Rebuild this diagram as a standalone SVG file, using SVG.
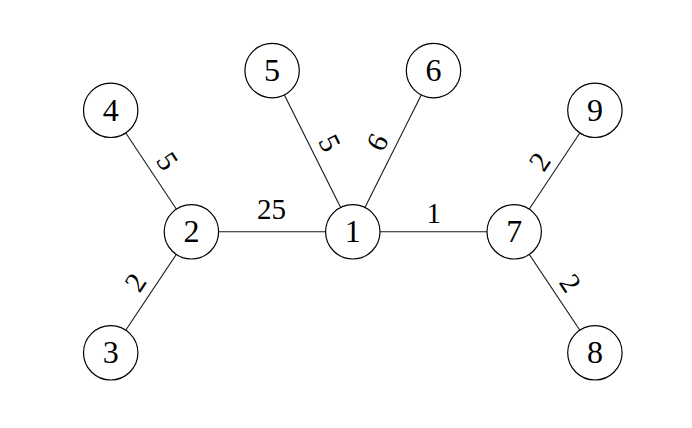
<svg xmlns="http://www.w3.org/2000/svg" width="692" height="428" viewBox="0 0 692 428">
<style>
.edge{stroke:#1a1a1a;stroke-width:1.1;fill:none}
.node circle{fill:#fff;stroke:#000;stroke-width:1.2}
.node text{font-family:"Liberation Serif","DejaVu Serif",serif;font-size:32px;text-anchor:middle;fill:#000}
.lbl{font-family:"Liberation Serif","DejaVu Serif",serif;font-size:29px;text-anchor:middle;fill:#000}
</style>
<rect width="692" height="428" fill="#fff"/>
<g id="connectors">
<line class="edge" x1="191.4" y1="231.8" x2="352.8" y2="231.8"/>
<line class="edge" x1="352.8" y1="231.8" x2="514.2" y2="231.8"/>
<line class="edge" x1="110.7" y1="110.3" x2="191.4" y2="231.8"/>
<line class="edge" x1="191.4" y1="231.8" x2="110.7" y2="352.8"/>
<line class="edge" x1="272.1" y1="70.6" x2="352.8" y2="231.8"/>
<line class="edge" x1="433.5" y1="70.6" x2="352.8" y2="231.8"/>
<line class="edge" x1="594.9" y1="110.3" x2="514.2" y2="231.8"/>
<line class="edge" x1="514.2" y1="231.8" x2="594.9" y2="352.8"/>
<text class="lbl" x="271.5" y="219">25</text>
<text class="lbl" x="433.7" y="223.3">1</text>
<text class="lbl" transform="translate(167.2,161.2) rotate(56.4)" y="9.6">5</text>
<text class="lbl" transform="translate(135.5,282.5) rotate(-56.4)" y="9.6">2</text>
<text class="lbl" transform="translate(329.7,143.3) rotate(63.5)" y="9.6">5</text>
<text class="lbl" transform="translate(377.5,142.3) rotate(-63.5)" y="9.6">6</text>
<text class="lbl" transform="translate(539.7,161.7) rotate(-56.4)" y="9.6">2</text>
<text class="lbl" transform="translate(570.3,283.3) rotate(56.4)" y="9.6">2</text>
</g>
<g id="n1" class="node"><circle cx="352.8" cy="231.8" r="27.2"/><text x="352.8" y="242.3">1</text></g>
<g id="n2" class="node"><circle cx="191.4" cy="231.8" r="27.2"/><text x="191.4" y="242.3">2</text></g>
<g id="n3" class="node"><circle cx="110.7" cy="352.8" r="27.2"/><text x="110.7" y="363.3">3</text></g>
<g id="n4" class="node"><circle cx="110.7" cy="110.3" r="27.2"/><text x="110.7" y="120.8">4</text></g>
<g id="n5" class="node"><circle cx="272.1" cy="70.6" r="27.2"/><text x="272.1" y="81.1">5</text></g>
<g id="n6" class="node"><circle cx="433.5" cy="70.6" r="27.2"/><text x="433.5" y="81.1">6</text></g>
<g id="n7" class="node"><circle cx="514.2" cy="231.8" r="27.2"/><text x="514.2" y="242.3">7</text></g>
<g id="n8" class="node"><circle cx="594.9" cy="352.8" r="27.2"/><text x="594.9" y="363.3">8</text></g>
<g id="n9" class="node"><circle cx="594.9" cy="110.3" r="27.2"/><text x="594.9" y="120.8">9</text></g>
</svg>
